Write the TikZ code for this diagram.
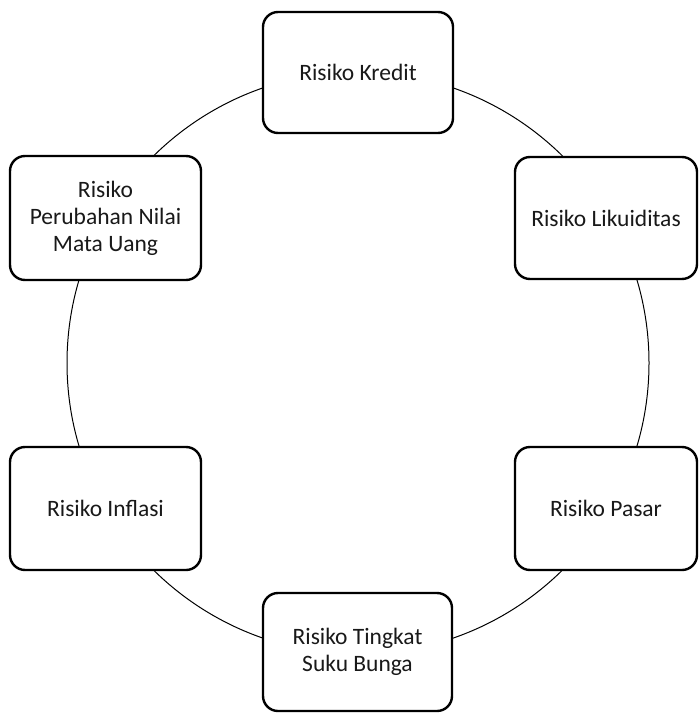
\documentclass[tikz,border=0pt]{standalone}
\usepackage{fontspec}
\setmainfont{Carlito}
\begin{document}
\begin{tikzpicture}[x=1pt,y=-1pt,
  riskbox/.style={draw=black, line width=2.4pt, fill=white, rounded corners=15pt,
    align=center, inner sep=0pt, font=\fontsize{23.5}{27}\selectfont, text=black!90},
  ring/.style={draw=black, line width=1pt}]
  \useasboundingbox (0,0) rectangle (699,714);
  % the circle linking the six risks
  \draw[ring] (358,363) circle [radius=291];
  \node[riskbox, minimum width=190pt, minimum height=121pt] (kredit) at (358,72.5) {Risiko Kredit};
  \node[riskbox, minimum width=182pt, minimum height=122pt] (likuid) at (606,218) {Risiko Likuiditas};
  \node[riskbox, minimum width=182pt, minimum height=123pt] (pasar) at (606,508.5) {Risiko Pasar};
  \node[riskbox, minimum width=189pt, minimum height=118pt] (bunga) at (357.5,652) {Risiko Tingkat\\Suku Bunga};
  \node[riskbox, minimum width=191pt, minimum height=123pt] (inflasi) at (105.5,508.5) {Risiko Inflasi};
  \node[riskbox, minimum width=191pt, minimum height=124pt] (kurs) at (105.5,218) {Risiko\\Perubahan Nilai\\Mata Uang};
\end{tikzpicture}
\end{document}
